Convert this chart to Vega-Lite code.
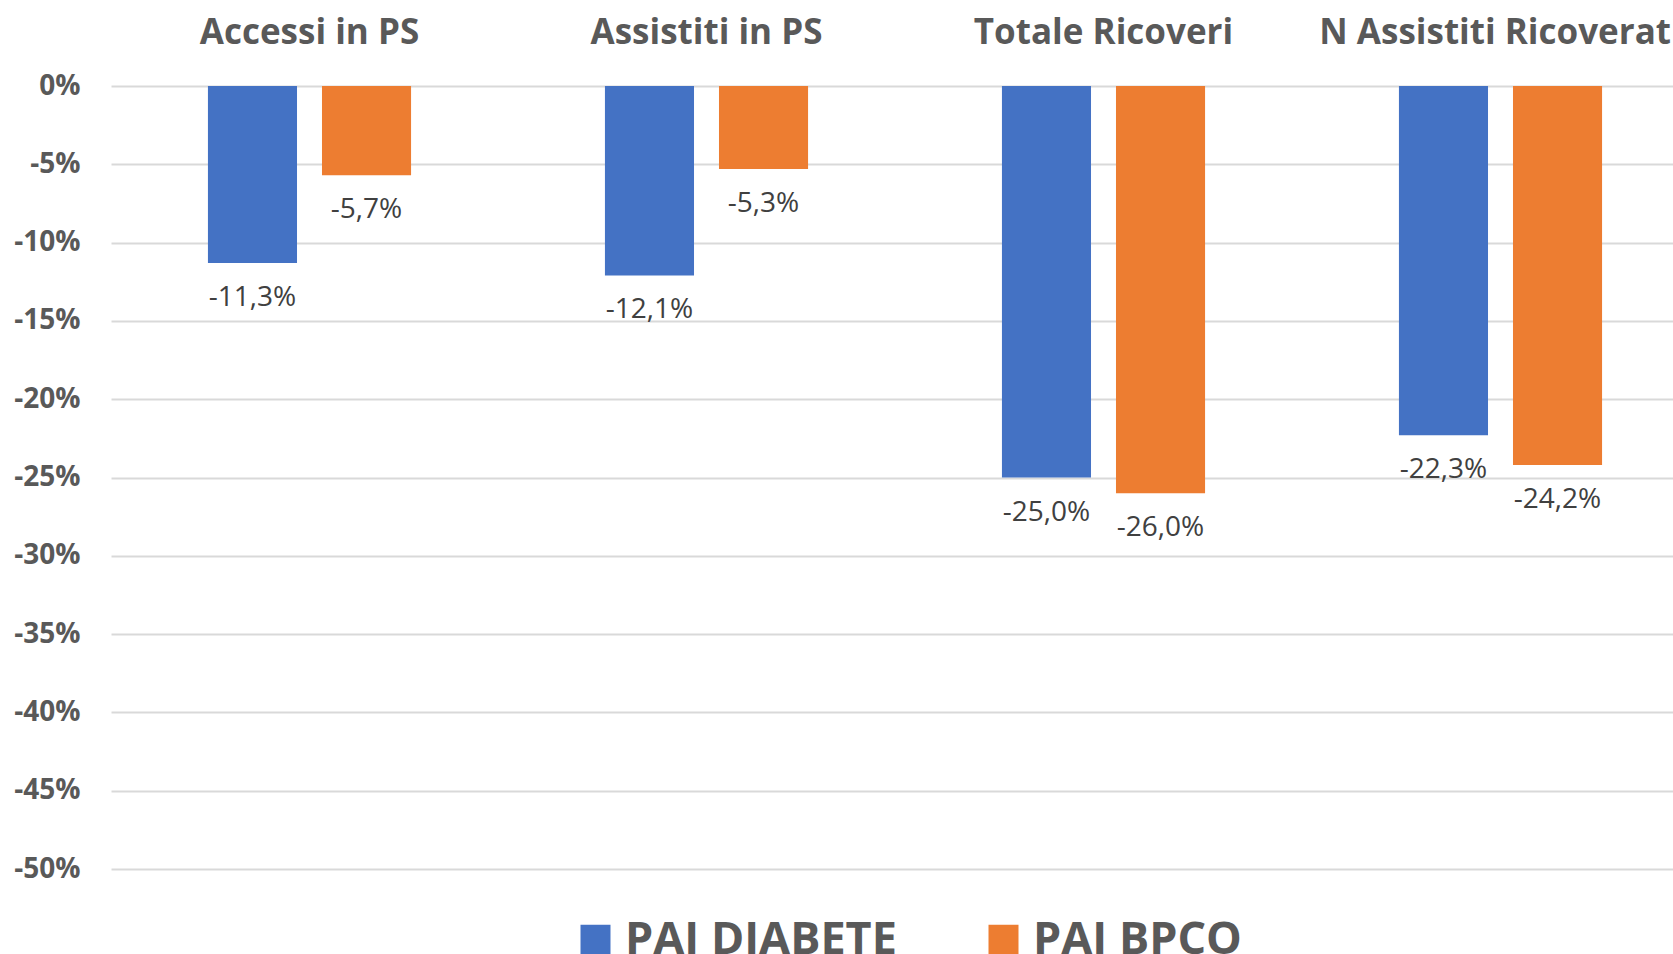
{
  "$schema": "https://vega.github.io/schema/vega-lite/v6.json",
  "autosize": {"type": "none"},
  "padding": {"left": 111, "top": 86, "right": 0, "bottom": 85},
  "width": 1562,
  "height": 783,
  "background": "white",
  "config": {
    "view": {"stroke": null},
    "font": "Open Sans",
    "locale": {
      "number": {"decimal": ",", "thousands": ".", "grouping": [3], "currency": ["€", ""], "minus": "-"}
    }
  },
  "data": {
    "values": [
      {"categoria": "Accessi in PS", "serie": "PAI DIABETE", "valore": -0.113},
      {"categoria": "Accessi in PS", "serie": "PAI BPCO", "valore": -0.057},
      {"categoria": "Assistiti in PS", "serie": "PAI DIABETE", "valore": -0.121},
      {"categoria": "Assistiti in PS", "serie": "PAI BPCO", "valore": -0.053},
      {"categoria": "Totale Ricoveri", "serie": "PAI DIABETE", "valore": -0.250},
      {"categoria": "Totale Ricoveri", "serie": "PAI BPCO", "valore": -0.260},
      {"categoria": "N Assistiti Ricoverati", "serie": "PAI DIABETE", "valore": -0.223},
      {"categoria": "N Assistiti Ricoverati", "serie": "PAI BPCO", "valore": -0.242}
    ]
  },
  "encoding": {
    "x": {
      "field": "categoria",
      "type": "nominal",
      "sort": ["Accessi in PS", "Assistiti in PS", "Totale Ricoveri", "N Assistiti Ricoverati"],
      "scale": {"range": [0, 1588], "paddingInner": 0, "paddingOuter": 0},
      "axis": {
        "orient": "top",
        "title": null,
        "domain": false,
        "ticks": false,
        "grid": false,
        "labelAngle": 0,
        "labelFont": "Open Sans",
        "labelFontSize": 35,
        "labelFontWeight": "bold",
        "labelColor": "#595959",
        "labelBaseline": "alphabetic",
        "labelPadding": 43,
        "labelLimit": 1000
      }
    },
    "xOffset": {
      "field": "serie",
      "type": "nominal",
      "sort": ["PAI DIABETE", "PAI BPCO"],
      "scale": {"paddingInner": 0.219, "paddingOuter": 0.85}
    },
    "y": {
      "field": "valore",
      "type": "quantitative",
      "scale": {"domain": [-0.5, 0], "nice": false},
      "axis": {
        "title": null,
        "format": ".0%",
        "values": [0, -0.05, -0.1, -0.15, -0.2, -0.25, -0.3, -0.35, -0.4, -0.45, -0.5],
        "domain": false,
        "ticks": false,
        "labelFont": "Open Sans",
        "labelFontSize": 28,
        "labelFontWeight": "bold",
        "labelColor": "#595959",
        "labelPadding": 31,
        "gridColor": "#d9d9d9",
        "gridWidth": 2
      }
    }
  },
  "layer": [
    {
      "mark": {"type": "bar"},
      "encoding": {
        "color": {
          "field": "serie",
          "type": "nominal",
          "sort": ["PAI DIABETE", "PAI BPCO"],
          "scale": {"domain": ["PAI DIABETE", "PAI BPCO"], "range": ["#4472C4", "#ED7D31"]},
          "legend": {
            "orient": "none",
            "legendX": 462,
            "legendY": 831,
            "direction": "horizontal",
            "title": null,
            "symbolType": "square",
            "symbolSize": 900,
            "symbolStrokeWidth": 0,
            "symbolOpacity": 1,
            "labelFont": "Open Sans",
            "labelFontSize": 45,
            "labelFontWeight": "bold",
            "labelColor": "#595959",
            "labelOffset": 7,
            "columnPadding": 84,
            "labelLimit": 1000
          }
        }
      }
    },
    {
      "mark": {"type": "text", "dy": 35, "baseline": "middle", "align": "center", "font": "Open Sans", "fontSize": 28, "color": "#404040"},
      "encoding": {
        "text": {"field": "valore", "type": "quantitative", "format": ".1%"}
      }
    }
  ]
}
